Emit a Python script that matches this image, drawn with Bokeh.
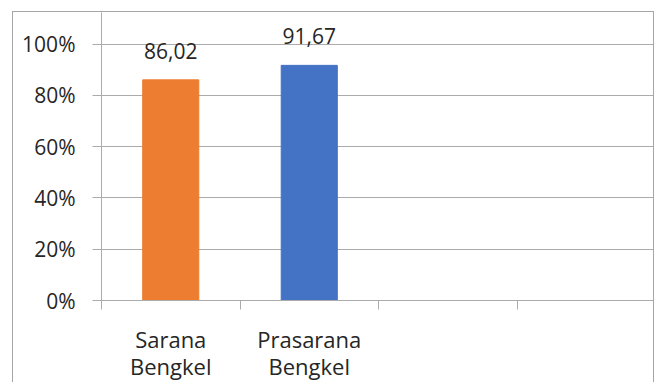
from bokeh.plotting import figure
from bokeh.models import ColumnDataSource, FixedTicker, NumeralTickFormatter, LabelSet, Range1d
from bokeh.core.properties import value
from bokeh.embed import file_html
from bokeh.resources import INLINE

# ---- data ----
categories = ["Sarana Bengkel", "Prasarana Bengkel", "", ""]
category_labels = ["Sarana\nBengkel", "Prasarana\nBengkel", "", ""]
values = [86.02, 91.67]
bar_colors = ["#ED7D31", "#4472C4"]
y_ticks = [0, 20, 40, 60, 80, 100]

FONT = "Open Sans"
TEXT = "#262626"
GRID = "#ababab"

n = len(categories)
xs = [i + 0.5 for i in range(len(values))]
src = ColumnDataSource(dict(
    x=xs,
    top=[v / 100 for v in values],
    color=bar_colors,
    label=[f"{v:.2f}".replace(".", ",") for v in values],
))

p = figure(width=642, height=371, output_backend="svg", toolbar_location=None,
           x_range=Range1d(0, n), y_range=Range1d(0, 1 + 31.5 / 256.5),
           min_border_left=88, min_border_right=0, min_border_top=0, min_border_bottom=83)
p.margin = (11, 0, 0, 12)
p.styles = {"border-top": "1px solid #a6a6a6", "border-left": "1px solid #a6a6a6",
            "border-right": "1px solid #a6a6a6"}
p.outline_line_color = None
p.background_fill_color = "white"
p.border_fill_color = "white"

p.vbar(x="x", top="top", width=0.405, color="color", source=src)

labels = LabelSet(x="x", y="top", text="label", source=src, text_align="center",
                  text_baseline="alphabetic", y_offset=21, text_font=value(FONT),
                  text_font_size=value("21px"), text_color=TEXT)
p.add_layout(labels)

# y axis
p.yaxis.ticker = FixedTicker(ticks=[t / 100 for t in y_ticks])
p.yaxis.formatter = NumeralTickFormatter(format="0%")
p.yaxis.major_tick_out = 9
p.yaxis.major_tick_in = 0
p.yaxis.minor_tick_line_color = None
p.yaxis.axis_line_color = GRID
p.yaxis.major_tick_line_color = GRID
p.yaxis.major_label_text_font = FONT
p.yaxis.major_label_text_font_size = "21px"
p.yaxis.major_label_text_color = TEXT
p.yaxis.major_label_standoff = 17

p.ygrid.ticker = FixedTicker(ticks=[t / 100 for t in y_ticks])
p.ygrid.grid_line_color = GRID
p.xgrid.grid_line_color = None

# x axis: labels at category centers, ticks at boundaries
centers = [i + 0.5 for i in range(n)]
bounds = list(range(n + 1))
p.xaxis.ticker = FixedTicker(ticks=centers, minor_ticks=bounds)
p.xaxis.major_label_overrides = {c: lab for c, lab in zip(centers, category_labels)}
p.xaxis.major_tick_out = 0
p.xaxis.major_tick_in = 0
p.xaxis.minor_tick_out = 9
p.xaxis.minor_tick_in = 0
p.xaxis.minor_tick_line_color = GRID
p.xaxis.axis_line_color = GRID
p.xaxis.major_label_text_font = FONT
p.xaxis.major_label_text_font_size = "22px"
p.xaxis.major_label_text_line_height = 0.9
p.xaxis.major_label_text_color = TEXT
p.xaxis.major_label_standoff = 14

open("out.html", "w").write(file_html(p, INLINE))
